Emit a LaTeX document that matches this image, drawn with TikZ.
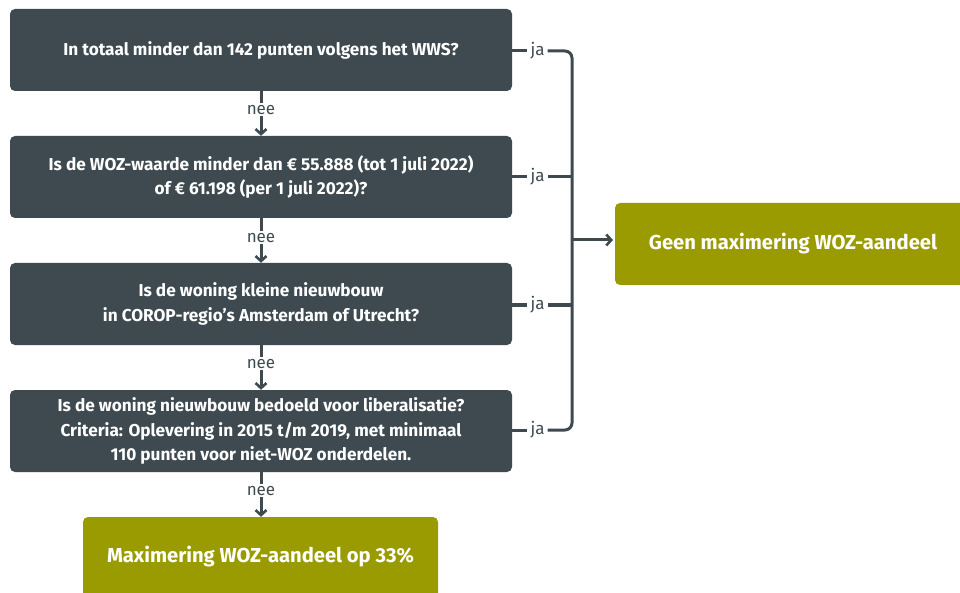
\documentclass[tikz,border=0pt]{standalone}
\usepackage{fontspec}
\setmainfont{Fira Sans}
\usetikzlibrary{arrows.meta}
\definecolor{qbox}{HTML}{3E4A50}
\definecolor{olive}{HTML}{9A9B00}
\tikzset{
  qnode/.style={fill=qbox, rounded corners=5pt, minimum width=502pt, minimum height=82pt, text=white, font=\fontsize{17.2}{24.5}\selectfont\bfseries, align=center, inner sep=0pt},
  anode/.style={fill=olive, rounded corners=5pt, text=white, font=\fontsize{20.2}{24}\selectfont\bfseries, inner sep=0pt},
  lbl/.style={text=qbox, font=\fontsize{17}{20}\selectfont, inner sep=1pt},
  conn/.style={draw=qbox, line width=3pt},
  arr/.style={conn, -{Straight Barb[length=5pt, width=11pt, line width=2.6pt]}},
}
\begin{document}
\begin{tikzpicture}[x=1pt, y=-1pt]
\useasboundingbox (0,0) rectangle (960,593);
\begin{scope}
\clip (0,0) rectangle (960,593);
\node[qnode] (q1) at (261,50) {In totaal minder dan 142 punten volgens het WWS?};
\node[qnode] (q2) at (261,177) {Is de WOZ-waarde minder dan € 55.888 (tot 1 juli 2022)\\of € 61.198 (per 1 juli 2022)?};
\node[qnode] (q3) at (261,304) {Is de woning kleine nieuwbouw\\in COROP-regio’s Amsterdam of Utrecht?};
\node[qnode] (q4) at (261,431) {Is de woning nieuwbouw bedoeld voor liberalisatie?\\Criteria: Oplevering in 2015 t/m 2019, met minimaal\\110 punten voor niet-WOZ onderdelen.};
\node[anode, minimum width=355pt, minimum height=90pt] (max) at (260.5,562) {};
\node[anode] at (260.5,557) {Maximering WOZ-aandeel op 33\%};
\node[anode, minimum width=360pt, minimum height=82pt] (geen) at (795,244) {};
\node[anode] at (793,244) {Geen maximering WOZ-aandeel};
\end{scope}

\node[lbl] (n1) at (261,110) {nee};
\node[lbl] (n2) at (261,238) {nee};
\node[lbl] (n3) at (261,364) {nee};
\node[lbl] (n4) at (261,491) {nee};

\node[lbl] (j1) at (537.5,51) {ja};
\node[lbl] (j2) at (537.5,177) {ja};
\node[lbl] (j3) at (537.5,305) {ja};
\node[lbl] (j4) at (537.5,430) {ja};

\coordinate (b) at (572,240);
\coordinate (gw) at (615,240);

\foreach \a/\n/\c in {q1/n1/q2, q2/n2/q3, q3/n3/q4}{
  \draw[conn] (\a.south) -- ([yshift=1pt]\n.north);
  \draw[arr] (\n.south) -- (\c.north);
}
\draw[conn] (q4.south) -- ([yshift=1pt]n4.north);
\draw[arr] (n4.south) -- (n4.south |- max.north);

\foreach \a/\j in {q1/j1, q2/j2, q3/j3, q4/j4}{
  \draw[conn] (\a.east |- \j) -- ([xshift=-2pt]\j.west);
}
\draw[conn, rounded corners=7pt] ([xshift=2pt]j1.east) -- (j1 -| b) -- (j4 -| b) -- ([xshift=2pt]j4.east);
\draw[conn] ([xshift=2pt]j2.east) -- (j2 -| b);
\draw[conn] ([xshift=2pt]j3.east) -- (j3 -| b);
\draw[arr] ([xshift=-1.5pt]b) -- ([xshift=-2pt]gw);
\end{tikzpicture}
\end{document}
